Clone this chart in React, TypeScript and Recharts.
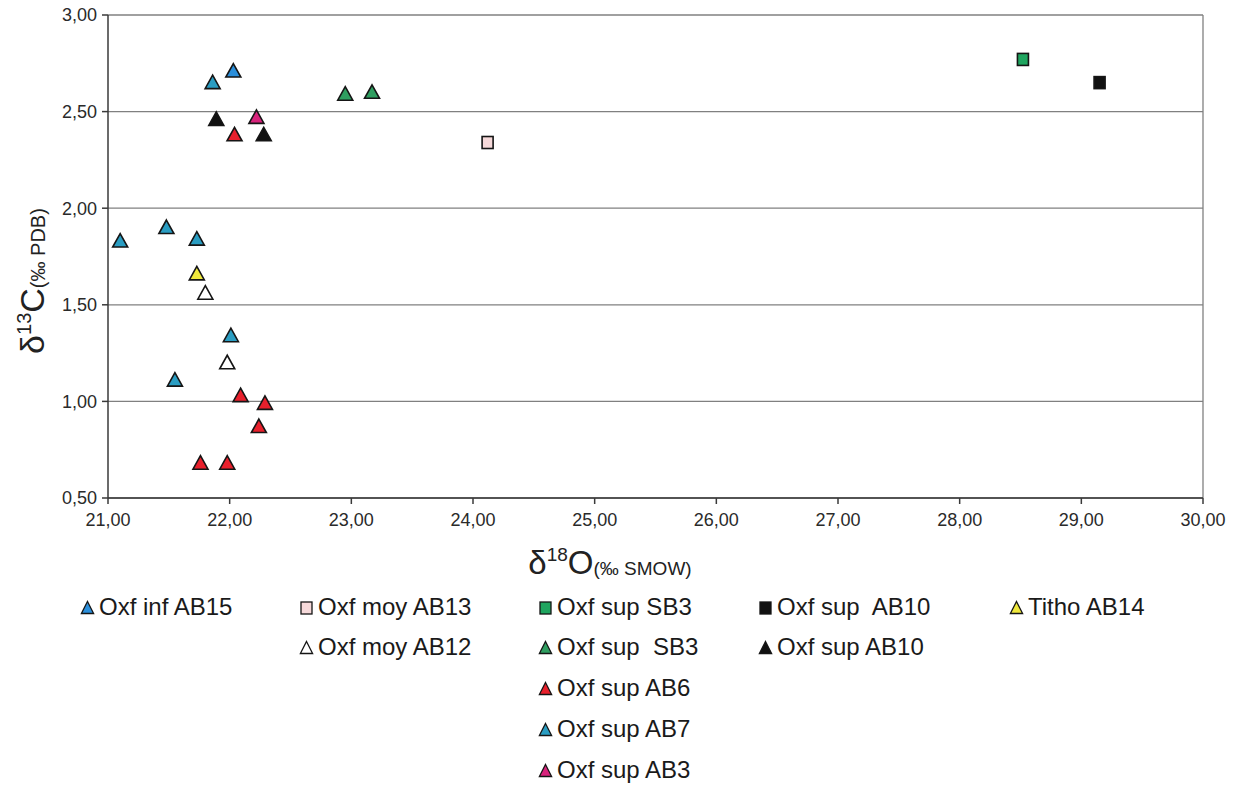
import React from "react";
import {
  ScatterChart,
  Scatter,
  XAxis,
  YAxis,
  CartesianGrid,
  ReferenceLine,
} from "recharts";

// ---- data (δ18O ‰ SMOW, δ13C ‰ PDB) ----
const oxfInfAB15 = [{ x: 22.03, y: 2.71 }];
const oxfMoyAB13 = [{ x: 24.12, y: 2.34 }];
const oxfSupSB3Sq = [{ x: 28.52, y: 2.77 }];
const oxfSupAB10Sq = [{ x: 29.15, y: 2.65 }];
const tithoAB14 = [{ x: 21.73, y: 1.66 }];
const oxfMoyAB12 = [
  { x: 21.8, y: 1.56 },
  { x: 21.98, y: 1.2 },
];
const oxfSupSB3Tri = [
  { x: 22.95, y: 2.59 },
  { x: 23.17, y: 2.6 },
];
const oxfSupAB10Tri = [
  { x: 21.89, y: 2.46 },
  { x: 22.28, y: 2.38 },
];
const oxfSupAB6 = [
  { x: 22.04, y: 2.38 },
  { x: 22.09, y: 1.03 },
  { x: 22.29, y: 0.99 },
  { x: 22.24, y: 0.87 },
  { x: 21.76, y: 0.68 },
  { x: 21.98, y: 0.68 },
];
const oxfSupAB7 = [
  { x: 21.86, y: 2.65 },
  { x: 21.1, y: 1.83 },
  { x: 21.48, y: 1.9 },
  { x: 21.73, y: 1.84 },
  { x: 22.01, y: 1.34 },
  { x: 21.55, y: 1.11 },
];
const oxfSupAB3 = [{ x: 22.22, y: 2.47 }];

const xTicks = [21, 22, 23, 24, 25, 26, 27, 28, 29, 30];
const yTicks = [0.5, 1, 1.5, 2, 2.5, 3];

type Kind = "tri" | "sq";
interface SeriesDef {
  name: string;
  kind: Kind;
  fill: string;
  data: { x: number; y: number }[];
}

const series: SeriesDef[] = [
  { name: "Oxf inf AB15", kind: "tri", fill: "#2b8fdb", data: oxfInfAB15 },
  { name: "Oxf moy AB13", kind: "sq", fill: "#f6d9da", data: oxfMoyAB13 },
  { name: "Oxf sup SB3", kind: "sq", fill: "#1fa55f", data: oxfSupSB3Sq },
  { name: "Oxf sup  AB10", kind: "sq", fill: "#111111", data: oxfSupAB10Sq },
  { name: "Titho AB14", kind: "tri", fill: "#efe83c", data: tithoAB14 },
  { name: "Oxf moy AB12", kind: "tri", fill: "#ffffff", data: oxfMoyAB12 },
  { name: "Oxf sup  SB3", kind: "tri", fill: "#2f9e60", data: oxfSupSB3Tri },
  { name: "Oxf sup AB10", kind: "tri", fill: "#111111", data: oxfSupAB10Tri },
  { name: "Oxf sup AB6", kind: "tri", fill: "#e8202c", data: oxfSupAB6 },
  { name: "Oxf sup AB7", kind: "tri", fill: "#2a9dc2", data: oxfSupAB7 },
  { name: "Oxf sup AB3", kind: "tri", fill: "#d8237c", data: oxfSupAB3 },
];

// legend layout: [series index, column, row]
const legendLayout: [number, number, number][] = [
  [0, 0, 0],
  [1, 1, 0],
  [2, 2, 0],
  [3, 3, 0],
  [4, 4, 0],
  [5, 1, 1],
  [6, 2, 1],
  [7, 3, 1],
  [8, 2, 2],
  [9, 2, 3],
  [10, 2, 4],
];
const legendColX = [87, 306, 545, 765, 1016];
const legendRowY = [607, 647, 688, 729, 770];

const FONT = "'Liberation Sans', Arial, Helvetica, sans-serif";

const makeShape = (kind: Kind, fill: string) => (props: any) => {
  const { cx, cy } = props;
  if (cx == null || cy == null) return <g />;
  if (kind === "tri") {
    return (
      <path
        d={`M${cx},${cy - 7.5} L${cx + 7.5},${cy + 6} L${cx - 7.5},${cy + 6} Z`}
        fill={fill}
        stroke="#151515"
        strokeWidth={1.6}
        strokeLinejoin="miter"
      />
    );
  }
  return (
    <rect
      x={cx - 5.5}
      y={cy - 6}
      width={11}
      height={12}
      fill={fill}
      stroke="#151515"
      strokeWidth={1.6}
    />
  );
};

const fmt = (v: number) => v.toFixed(2).replace(".", ",");

const YLabel = () => (
  <text
    transform="translate(44,281) rotate(-90)"
    textAnchor="middle"
    fontFamily={FONT}
    fill="#222"
  >
    <tspan fontSize={34}>δ</tspan>
    <tspan fontSize={20} dy={-13}>
      13
    </tspan>
    <tspan fontSize={34} dy={13}>
      C
    </tspan>
    <tspan fontSize={20} dy={1}>
      (‰ PDB)
    </tspan>
  </text>
);

const XLabel = () => (
  <text x={610} y={574} textAnchor="middle" fontFamily={FONT} fill="#222">
    <tspan fontSize={33}>δ</tspan>
    <tspan fontSize={19} dy={-13}>
      18
    </tspan>
    <tspan fontSize={33} dy={13}>
      O
    </tspan>
    <tspan fontSize={19} dy={1}>
      (‰ SMOW)
    </tspan>
  </text>
);

const LegendMarker = ({ kind, fill }: { kind: Kind; fill: string }) => (
  <svg width={15} height={15} style={{ display: "block" }}>
    {kind === "tri" ? (
      <path d="M7.5,1.5 L13.6,13.5 L1.4,13.5 Z" fill={fill} stroke="#151515" strokeWidth={1.3} />
    ) : (
      <rect x={2} y={2} width={11} height={12} fill={fill} stroke="#151515" strokeWidth={1.3} />
    )}
  </svg>
);

export default function App() {
  return (
    <div
      style={{
        position: "absolute",
        left: 0,
        top: 0,
        width: 1239,
        height: 785,
        background: "#fff",
        fontFamily: FONT,
      }}
    >
      <ScatterChart
        width={1239}
        height={785}
        margin={{ top: 15, right: 36, bottom: 247, left: 48 }}
      >
        <CartesianGrid horizontal vertical={false} stroke="#808080" strokeWidth={1.3} />
        <XAxis
          type="number"
          dataKey="x"
          domain={[21, 30]}
          ticks={xTicks}
          tickFormatter={fmt}
          height={40}
          tickSize={6}
          tickMargin={9}
          stroke="#3a3a3a"
          strokeWidth={1.5}
          tick={{ fill: "#2a2a2a", fontSize: 18, fontFamily: FONT }}
          allowDataOverflow
        />
        <YAxis
          type="number"
          dataKey="y"
          domain={[0.5, 3]}
          ticks={yTicks}
          tickFormatter={fmt}
          width={60}
          tickSize={6}
          tickMargin={5}
          stroke="#3a3a3a"
          strokeWidth={1.5}
          tick={{ fill: "#2a2a2a", fontSize: 18, fontFamily: FONT }}
          allowDataOverflow
        />
        <ReferenceLine x={30} stroke="#808080" strokeWidth={1.3} />
        {series.map((s) => (
          <Scatter
            key={s.name}
            name={s.name}
            data={s.data}
            isAnimationActive={false}
            shape={makeShape(s.kind, s.fill)}
          />
        ))}
        <YLabel />
        <XLabel />
      </ScatterChart>
      {legendLayout.map(([si, col, row]) => {
        const s = series[si];
        return (
          <div
            key={si}
            style={{
              position: "absolute",
              left: legendColX[col] - 7,
              top: legendRowY[row] - 15,
              height: 30,
              display: "flex",
              alignItems: "center",
              gap: 4,
              whiteSpace: "pre",
              fontSize: 24,
              color: "#1a1a1a",
              fontFamily: FONT,
            }}
          >
            <LegendMarker kind={s.kind} fill={s.fill} />
            <span>{s.name}</span>
          </div>
        );
      })}
    </div>
  );
}
